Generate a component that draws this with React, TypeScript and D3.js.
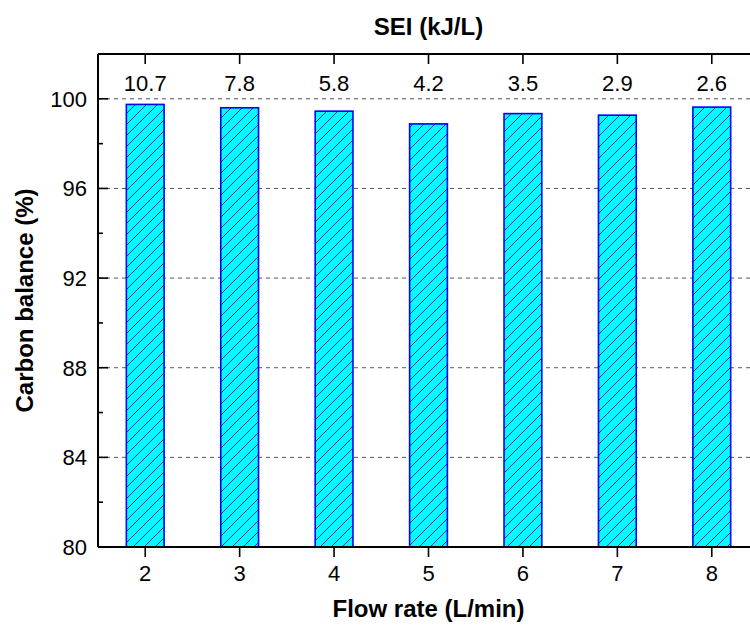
import React, { useEffect, useRef } from "react";
import * as d3 from "d3";

const flowRates = [2, 3, 4, 5, 6, 7, 8];
const carbonBalance = [99.75, 99.6, 99.45, 98.88, 99.34, 99.27, 99.63];
const seiLabels = ["10.7", "7.8", "5.8", "4.2", "3.5", "2.9", "2.6"];
const yMajorTicks = [80, 84, 88, 92, 96, 100];
const yMinorTicks = [82, 86, 90, 94, 98, 102];

const App: React.FC = () => {
  const svgRef = useRef<SVGSVGElement | null>(null);

  useEffect(() => {
    if (!svgRef.current) return;
    const width = 750;
    const height = 628;
    const margin = { top: 54, right: -9, bottom: 81, left: 98 };
    const plotW = width - margin.left - margin.right;
    const plotH = height - margin.top - margin.bottom;
    const font = "Arial, 'Liberation Sans', sans-serif";

    const x = d3.scaleLinear().domain([1.5, 8.5]).range([0, plotW]);
    const y = d3.scaleLinear().domain([80, 102]).range([plotH, 0]);
    const barW = x(2.4) - x(2);

    const svg = d3.select(svgRef.current);
    svg.selectAll("*").remove();

    const defs = svg.append("defs");
    const pat = defs.append("pattern")
      .attr("id", "hatch")
      .attr("patternUnits", "userSpaceOnUse")
      .attr("width", 11)
      .attr("height", 11);
    pat.append("rect").attr("width", 11).attr("height", 11).attr("fill", "#00ffff");
    pat.append("path")
      .attr("d", "M-1,1 l2,-2 M0,11 l11,-11 M10,12 l2,-2")
      .attr("stroke", "#0000ff")
      .attr("stroke-width", 0.9);

    const g = svg.append("g").attr("transform", `translate(${margin.left},${margin.top})`);

    // dashed grid
    g.selectAll("line.grid")
      .data(yMajorTicks.filter(d => d > 80))
      .enter()
      .append("line")
      .attr("x1", 0)
      .attr("x2", plotW)
      .attr("y1", d => y(d))
      .attr("y2", d => y(d))
      .attr("stroke", "#555")
      .attr("stroke-width", 1)
      .attr("stroke-dasharray", "4,4");

    // bars
    g.selectAll("rect.bar")
      .data(carbonBalance)
      .enter()
      .append("rect")
      .attr("x", (_, i) => x(flowRates[i]) - barW / 2)
      .attr("y", d => y(d))
      .attr("width", barW)
      .attr("height", d => y(80) - y(d))
      .attr("fill", "url(#hatch)")
      .attr("stroke", "#0000ff")
      .attr("stroke-width", 1.6);

    // left axis
    const left = g.append("g");
    left.append("line").attr("x1", 0).attr("x2", 0).attr("y1", 0).attr("y2", plotH)
      .attr("stroke", "#000").attr("stroke-width", 2);
    left.selectAll("line.maj").data(yMajorTicks).enter().append("line")
      .attr("x1", 0).attr("x2", 10).attr("y1", d => y(d)).attr("y2", d => y(d))
      .attr("stroke", "#000").attr("stroke-width", 1.6);
    left.selectAll("line.min").data(yMinorTicks).enter().append("line")
      .attr("x1", 0).attr("x2", 5).attr("y1", d => y(d)).attr("y2", d => y(d))
      .attr("stroke", "#000").attr("stroke-width", 1.6);
    left.selectAll("text").data(yMajorTicks).enter().append("text")
      .attr("x", -11).attr("y", d => y(d)).attr("dy", "0.36em")
      .attr("text-anchor", "end")
      .attr("font-family", font).attr("font-size", 22)
      .text(d => d);

    // bottom axis
    const bottom = g.append("g").attr("transform", `translate(0,${plotH})`);
    bottom.append("line").attr("x1", 0).attr("x2", plotW).attr("stroke", "#000").attr("stroke-width", 2);
    bottom.selectAll("line.t").data(flowRates).enter().append("line")
      .attr("x1", d => x(d)).attr("x2", d => x(d)).attr("y1", 0).attr("y2", 10)
      .attr("stroke", "#000").attr("stroke-width", 1.6);
    bottom.selectAll("text").data(flowRates).enter().append("text")
      .attr("x", d => x(d)).attr("y", 34)
      .attr("text-anchor", "middle")
      .attr("font-family", font).attr("font-size", 22)
      .text(d => d);

    // top axis
    const top = g.append("g");
    top.append("line").attr("x1", 0).attr("x2", plotW).attr("stroke", "#000").attr("stroke-width", 2);
    top.selectAll("line.t").data(flowRates).enter().append("line")
      .attr("x1", d => x(d)).attr("x2", d => x(d)).attr("y1", 0).attr("y2", 10)
      .attr("stroke", "#000").attr("stroke-width", 1.6);
    top.selectAll("text").data(seiLabels).enter().append("text")
      .attr("x", (_, i) => x(flowRates[i])).attr("y", 37)
      .attr("text-anchor", "middle")
      .attr("font-family", font).attr("font-size", 22)
      .text(d => d);

    // titles
    svg.append("text")
      .attr("x", margin.left + plotW / 2).attr("y", 617)
      .attr("text-anchor", "middle")
      .attr("font-family", font).attr("font-size", 24).attr("font-weight", "bold")
      .text("Flow rate (L/min)");
    svg.append("text")
      .attr("x", margin.left + plotW / 2).attr("y", 35)
      .attr("text-anchor", "middle")
      .attr("font-family", font).attr("font-size", 24).attr("font-weight", "bold")
      .text("SEI (kJ/L)");
    svg.append("text")
      .attr("transform", `translate(33,${margin.top + plotH / 2}) rotate(-90)`)
      .attr("text-anchor", "middle")
      .attr("font-family", font).attr("font-size", 24).attr("font-weight", "bold")
      .text("Carbon balance (%)");
  }, []);

  return (
    <svg
      ref={svgRef}
      width={750}
      height={628}
      style={{ position: "absolute", left: 0, top: 0, background: "#fff" }}
    />
  );
};

export default App;
